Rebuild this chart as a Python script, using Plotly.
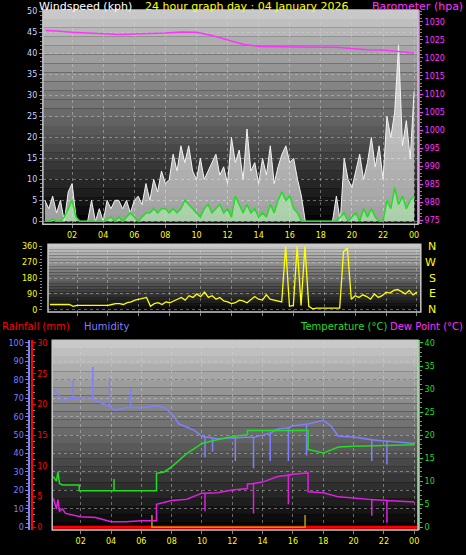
import numpy as np
import plotly.graph_objects as go

# ---------------- data ----------------
wind_t = list(np.arange(0.25, 24.01, 0.25))
gust = [5,3,6,2, 5,0,7,9, 1,0,0,0, 5,0,3,0, 5,3,5,5, 3,5,2,5, 6,4,9,5,
        10,7,12,9, 10,16,12,18, 14,18,12,10, 15,10,12,14, 16,11,13,9,
        20,14,17,10, 22,12,14,9, 15,11,18,9, 13,16,18,14, 15,10,6,0,
        0,0,0,0, 0,0,0,6, 0,15,10,8, 12,16,10,14, 20,13,18,10,
        25,20,26,42, 18,24,15,31]
avg_wind = [0,0,0.5,0, 0,1,3,5, 1,0,0,0, 0,0,0,0, 0.5,1,0,1, 0,1,2,1, 0,1,2,2,
            3,2,3,3, 2,3,2,3, 5,4,3,2, 1,3,4,2, 3,4,2,3, 1,6,4,2, 4,2,3,1,
            2,1,4,2, 5,7,5,6, 3,2,0,0, 0,0,0,0, 0,0,0,0, 1,2,0,1, 2,0,3,1,
            3,1,0,0, 5,3,8,4, 6,3,5,6]
direction = [30,30,30,30, 30,30,20,25, 25,25,25,25, 25,25,25,25, 30,35,35,30,
             40,45,55,60, 65,70,20,35, 40,30,45,40, 50,60,70,55, 80,70,90,75,
             100,70,80,60, 70,50,45,35, 40,55,50,40, 60,75,60,55, 85,60,55,50,
             45,360,20,25, 360,25,360,20, 5,10,10,10, 10,10,10,10,
             330,350,60,80, 70,85,75,60, 90,70,80,100, 95,110,115,100, 90,110,85,100]
baro_t = [0.3,1,2,3,4,5,6,7,8,9,10,11,12,13,14,15,16,17,18,19,20,21,22,23,24]
baro = [1027.6,1027.5,1027.1,1027.0,1026.7,1026.5,1026.6,1026.9,1026.9,1027.2,1027.1,
        1026.2,1025.0,1023.8,1023.2,1023.1,1023.0,1023.0,1023.0,1023.0,1022.6,1022.3,
        1022.2,1021.8,1021.4]

hum_t = [0.2,0.8,1.5,1.5,1.5,2,2.8,2.8,2.8,3.5,3.9,3.9,3.9,4.2,5,5.3,5.3,5.3,6,7,7.5,8,8.5,9.5,
         10,10.2,10.2,10.2,10.7,10.7,10.7,11,12,12.2,12.2,12.2,13,13.4,13.4,13.4,14,14.5,14.5,14.5,
         15,15.7,15.7,15.7,16,16.9,16.9,16.9,17,18,18.5,19,20,21,21.2,21.2,21.2,22,22.2,22.2,22.2,24]
humidity = [75,69,70,80,70,69.5,69.5,87,69.5,67,66,81,66,63.4,65,65,75,65,64.7,66,65,61.6,56,52.6,
            49.4,49,38,49,48.5,41,48.5,48,48.6,48.6,36,48.6,48.8,48.8,32,48.8,50,51,36,51,
            53.5,54,36,54,55,56,39,56,56,58,55,49.4,49,48,47.5,36,47.5,46.8,46.8,34,46.8,45.4]
temp_t = [0.2,0.4,0.5,0.6,0.8,1.9,1.9,4.2,4.2,4.2,7.0,7.0,7.5,8,9,10,11,12,13,13,17,17,18,19,20,22,24]
temperature = [11,10,12,9.5,9.2,9.2,7.9,7.9,10.5,7.9,7.9,11.7,12,13.1,16,18.2,19,19.7,20.1,21,21,16.9,16.1,17.4,17.6,17.8,17.9]
dew_t = [0.2,0.4,0.5,0.6,0.8,1,2,3,4,5,6,7,7,8,9,10,10.2,10.2,10.2,11,12,13,13,13.4,13.4,13.4,14,15,15.7,15.7,15.7,
         16,17,17,18,19,20,21.2,21.2,21.2,22.2,22.2,22.2,24]
dewpoint = [6.3,4,6,3.5,4,3,2.3,2.1,1.2,1.2,1.4,1.4,5,5.8,6.1,7.4,7.4,3.5,7.4,7.5,8.1,8.4,9.4,9.5,3,9.5,9.8,11,11.3,5,11.3,
            11.5,11.8,7.7,7.5,6.6,6.3,6,2.5,6,5.8,1,5.8,5.5]
rain_t = [0.1,24.2]
rain = [0,0]
rate_t = [6.7,6.7,6.7,16.8,16.8,16.8]
rate = [0,2,0,0,2,0]

hour_ticks = [2,4,6,8,10,12,14,16,18,20,22,24]
hour_labels = ["02","04","06","08","10","12","14","16","18","20","22","00"]
dir_labels = ["N","W","S","E","N"]

# ---------------- figure ----------------
fig = go.Figure()
F = "DejaVu Sans"
YEL = "#ffff00"

fig.add_trace(go.Scatter(x=wind_t, y=gust, mode="lines", line=dict(color="#f4f4f4", width=1),
                         fill="tozeroy", fillcolor="rgba(255,255,255,0.62)", xaxis="x", yaxis="y"))
fig.add_trace(go.Scatter(x=wind_t, y=avg_wind, mode="lines", line=dict(color="#22dd22", width=1.5),
                         fill="tozeroy", fillcolor="rgba(180,240,180,0.6)", xaxis="x", yaxis="y"))
fig.add_trace(go.Scatter(x=baro_t, y=baro, mode="lines", line=dict(color="#ff33ff", width=1.5),
                         xaxis="x", yaxis="y2"))
fig.add_trace(go.Scatter(x=wind_t, y=direction, mode="lines", line=dict(color="#ffff00", width=1.3),
                         xaxis="x2", yaxis="y3"))
fig.add_trace(go.Scatter(x=hum_t, y=humidity, mode="lines", line=dict(color="#7f7fff", width=1.5),
                         xaxis="x3", yaxis="y4"))
fig.add_trace(go.Scatter(x=temp_t, y=temperature, mode="lines", line=dict(color="#22dd22", width=1.5),
                         xaxis="x3", yaxis="y6"))
fig.add_trace(go.Scatter(x=dew_t, y=dewpoint, mode="lines", line=dict(color="#e020e0", width=1.5),
                         xaxis="x3", yaxis="y6"))
fig.add_trace(go.Scatter(x=rain_t, y=rain, mode="lines", line=dict(color="#ff0000", width=3),
                         xaxis="x3", yaxis="y5"))
fig.add_trace(go.Scatter(x=rate_t, y=rate, mode="lines", line=dict(color="#b0a000", width=1.5),
                         xaxis="x3", yaxis="y5"))

# gradient backgrounds
N = 24
for xr, yr in [("x domain", "y domain"), ("x2 domain", "y3 domain"), ("x3 domain", "y4 domain")]:
    for i in range(N):
        g = int(200 - 195 * i / (N - 1))
        fig.add_shape(type="rect", xref=xr, yref=yr, x0=0, x1=1, y0=1 - (i + 1) / N, y1=1 - i / N,
                      fillcolor=f"rgb({g},{g},{g})", line=dict(width=0), layer="below")
    fig.add_shape(type="rect", xref=xr, yref=yr, x0=0, x1=1, y0=0, y1=1,
                  line=dict(color="#c8c8c8", width=1.5), layer="above")

grid = dict(showgrid=True, gridcolor="rgba(210,210,210,0.45)", griddash="dot", gridwidth=1, zeroline=False,
            automargin=False)
xcommon = dict(range=[0.12, 24.25], tickvals=hour_ticks, ticktext=hour_labels, **grid,
               tickfont=dict(color=YEL, size=8, family=F), ticks="outside", ticklen=3, tickcolor="#888")
minor = dict(ticks="outside", ticklen=2, tickcolor="#888")
TF = 8

fig.update_layout(
    width=466, height=555, margin=dict(l=0, r=0, t=0, b=0),
    paper_bgcolor="black", plot_bgcolor="black", showlegend=False,
    xaxis=dict(domain=[0.092, 0.897], anchor="y", **xcommon),
    xaxis2=dict(domain=[0.103, 0.903], anchor="y3", showticklabels=False, **{k: v for k, v in xcommon.items() if k != "tickfont"}),
    xaxis3=dict(domain=[0.112, 0.897], anchor="y4", **xcommon),
    yaxis=dict(domain=[0.596, 0.982], range=[-0.7, 50.4], dtick=5, **grid, ticks="outside", ticklen=3,
               tickcolor="#6a8aff", tickfont=dict(color="#c8d8ff", size=TF, family=F),
               minor=dict(dtick=1, **minor)),
    yaxis2=dict(overlaying="y", side="right", anchor="x", range=[973.9, 1033.3], dtick=5, showgrid=False,
                zeroline=False, automargin=False, ticks="outside", ticklen=3, tickcolor="#ff33ff",
                tickfont=dict(color="#ff33ff", size=TF, family=F), minor=dict(dtick=1, **minor),
                showline=True, linecolor="#ff33ff", linewidth=2),
    yaxis3=dict(domain=[0.438, 0.560], range=[-12, 372], tickvals=[0, 90, 180, 270, 360], **grid,
                ticks="outside", ticklen=3, tickcolor="#888", tickfont=dict(color=YEL, size=TF, family=F),
                minor=dict(dtick=18, **minor)),
    yaxis4=dict(domain=[0.045, 0.387], range=[-1.5, 101.5], dtick=10, anchor="free", position=0.063, side="left",
                **grid, ticks="outside", ticklen=3, tickcolor="#7f7fff",
                tickfont=dict(color="#7f7fff", size=TF, family=F), showline=True, linecolor="#7f7fff", linewidth=2,
                minor=dict(dtick=2, **minor)),
    yaxis5=dict(overlaying="y4", anchor="free", position=0.068, side="right", range=[-0.45, 30.45], dtick=5,
                showgrid=False, zeroline=False, automargin=False, ticks="outside", ticklen=3, tickcolor="#ff0000",
                tickfont=dict(color="#ff0000", size=TF, family=F), showline=True, linecolor="#ff0000", linewidth=2,
                minor=dict(dtick=1, **minor)),
    yaxis6=dict(overlaying="y4", side="right", anchor="x3", range=[-0.6, 40.6], dtick=5, showgrid=False,
                zeroline=False, automargin=False, ticks="outside", ticklen=3, tickcolor="#22dd22",
                tickfont=dict(color="#22dd22", size=TF, family=F), showline=True, linecolor="#22dd22", linewidth=2,
                minor=dict(dtick=1, **minor)),
)

def txt(x, y, s, color, size=11, anchor="left"):
    fig.add_annotation(x=x, y=y, xref="paper", yref="paper", text=s, showarrow=False,
                       font=dict(color=color, size=size, family=F), xanchor=anchor, yanchor="middle")

txt(0.08, 1 - 6 / 555, "Windspeed (kph)", "white")
txt(0.53, 1 - 6 / 555, "24 hour graph day : 04 January 2026", YEL, anchor="center")
txt(0.998, 1 - 6 / 555, "Barometer (hpa)", "#ff33ff", anchor="right")
for i, lab in enumerate(dir_labels):
    fig.add_annotation(x=0.94, y=360 - 90 * i, xref="paper", yref="y3", text=lab, showarrow=False,
                       font=dict(color=YEL, size=11, family=F))
txt(0.0, 1 - 326 / 555, "Rainfall (mm)", "#ff0000", size=10)
txt(0.175, 1 - 326 / 555, "Humidity", "#7f7fff", size=10)
txt(0.835, 1 - 326 / 555, "Temperature (°C)", "#22dd22", size=10, anchor="right")
txt(0.998, 1 - 326 / 555, "Dew Point (°C)", "#ff33ff", size=10, anchor="right")

body = fig.to_html(full_html=False, include_plotlyjs=True, config={"displayModeBar": False})
with open("out.html", "w", encoding="utf-8") as f:
    f.write("<!DOCTYPE html><html><head><meta charset='utf-8'>"
            "<style>html,body{margin:0;padding:0;overflow:hidden;background:#000;}</style>"
            "</head><body>" + body + "</body></html>")
